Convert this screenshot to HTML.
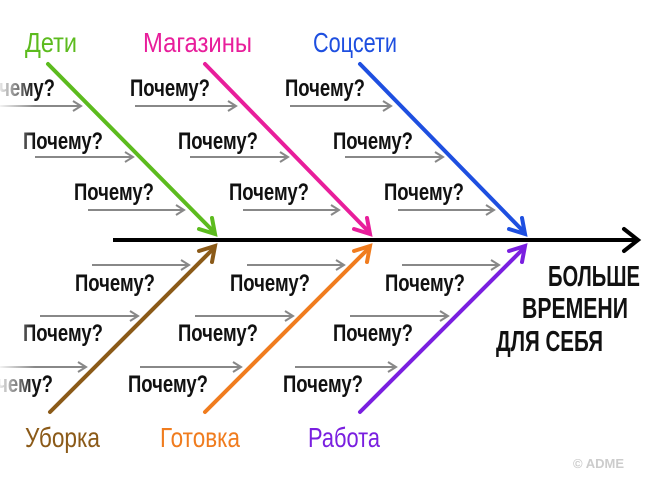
<!DOCTYPE html>
<html><head><meta charset="utf-8"><style>
html,body{margin:0;padding:0;background:#fff;width:650px;height:481px;overflow:hidden}
svg{display:block}
.q{font-family:"Liberation Sans",sans-serif;font-weight:bold;font-size:24px;fill:#111}
.l{font-family:"Liberation Sans",sans-serif;font-size:28px}
.r{font-family:"Liberation Sans",sans-serif;font-weight:bold;font-size:29px;fill:#111}
</style></head><body>
<svg width="650" height="481" viewBox="0 0 650 481" xmlns="http://www.w3.org/2000/svg">
<defs>
<linearGradient id="fade" x1="0" x2="1" y1="0" y2="0"><stop offset="0" stop-color="#fff" stop-opacity="0.9"/><stop offset="1" stop-color="#fff" stop-opacity="0"/></linearGradient>
<g id="grayTop">
 <line x1="-20" y1="106" x2="80" y2="106" stroke="#888" stroke-width="2"/><path d="M73,101 L81,106 L73,111" fill="none" stroke="#888" stroke-width="2"/>
 <line x1="35" y1="157" x2="132" y2="157" stroke="#888" stroke-width="2"/><path d="M125,152 L133,157 L125,162" fill="none" stroke="#888" stroke-width="2"/>
 <line x1="88" y1="210" x2="183" y2="210" stroke="#888" stroke-width="2"/><path d="M176,205 L184,210 L176,215" fill="none" stroke="#888" stroke-width="2"/>
 <text class="q" x="-25" y="96" textLength="80" lengthAdjust="spacingAndGlyphs">Почему?</text>
 <text class="q" x="23" y="149" textLength="80" lengthAdjust="spacingAndGlyphs">Почему?</text>
 <text class="q" x="74" y="200" textLength="80" lengthAdjust="spacingAndGlyphs">Почему?</text>
</g>
<g id="grayBot">
 <line x1="92" y1="265" x2="188" y2="265" stroke="#888" stroke-width="2"/><path d="M181,260 L189,265 L181,270" fill="none" stroke="#888" stroke-width="2"/>
 <line x1="40" y1="316" x2="137" y2="316" stroke="#888" stroke-width="2"/><path d="M130,311 L138,316 L130,321" fill="none" stroke="#888" stroke-width="2"/>
 <line x1="-15" y1="367" x2="85" y2="367" stroke="#888" stroke-width="2"/><path d="M78,362 L86,367 L78,372" fill="none" stroke="#888" stroke-width="2"/>
 <text class="q" x="75" y="291" textLength="80" lengthAdjust="spacingAndGlyphs">Почему?</text>
 <text class="q" x="23" y="341" textLength="80" lengthAdjust="spacingAndGlyphs">Почему?</text>
 <text class="q" x="-27" y="392" textLength="80" lengthAdjust="spacingAndGlyphs">Почему?</text>
</g>
</defs>
<use href="#grayTop"/><use href="#grayTop" x="155"/><use href="#grayTop" x="310"/>
<use href="#grayBot"/><use href="#grayBot" x="155"/><use href="#grayBot" x="310"/>
<rect x="0" y="60" width="35" height="350" fill="url(#fade)"/>
<line x1="113" y1="240" x2="636" y2="240" stroke="#000" stroke-width="4"/>
<path d="M624,229 L638,240 L624,251" fill="none" stroke="#000" stroke-width="4" stroke-linecap="round"/>
<g stroke-width="4" fill="none" stroke-linecap="round">
<line x1="48" y1="64" x2="214" y2="232" stroke="#5cbb1e"/><path d="M199,229 L215,234 L212,218" stroke="#5cbb1e"/>
<line x1="205" y1="64" x2="369" y2="232" stroke="#e81e9b"/><path d="M354,229 L370,234 L367,218" stroke="#e81e9b"/>
<line x1="360" y1="64" x2="524" y2="232" stroke="#1e4fe0"/><path d="M509,229 L525,234 L522,218" stroke="#1e4fe0"/>
<line x1="50" y1="412" x2="214" y2="248" stroke="#8b5a18"/><path d="M199,251 L215,246 L212,262" stroke="#8b5a18"/>
<line x1="205" y1="412" x2="369" y2="248" stroke="#f07c1e"/><path d="M354,251 L370,246 L367,262" stroke="#f07c1e"/>
<line x1="360" y1="412" x2="524" y2="248" stroke="#7a1fe0"/><path d="M509,251 L525,246 L522,262" stroke="#7a1fe0"/>
</g>
<text class="l" x="25" y="52" fill="#5cbb1e" textLength="52" lengthAdjust="spacingAndGlyphs">Дети</text>
<text class="l" x="143" y="52" fill="#e81e9b" textLength="109" lengthAdjust="spacingAndGlyphs">Магазины</text>
<text class="l" x="313" y="52" fill="#1e4fe0" textLength="84" lengthAdjust="spacingAndGlyphs">Соцсети</text>
<text class="l" x="25" y="447" fill="#8b5a18" textLength="75" lengthAdjust="spacingAndGlyphs">Уборка</text>
<text class="l" x="160" y="447" fill="#f07c1e" textLength="80" lengthAdjust="spacingAndGlyphs">Готовка</text>
<text class="l" x="308" y="447" fill="#7a1fe0" textLength="72" lengthAdjust="spacingAndGlyphs">Работа</text>
<text class="r" x="548" y="286" textLength="92" lengthAdjust="spacingAndGlyphs">БОЛЬШЕ</text>
<text class="r" x="522" y="318" textLength="106" lengthAdjust="spacingAndGlyphs">ВРЕМЕНИ</text>
<text class="r" x="496" y="351" textLength="107" lengthAdjust="spacingAndGlyphs">ДЛЯ СЕБЯ</text>
<text x="573" y="468" font-family="Liberation Sans,sans-serif" font-weight="bold" font-size="13" fill="#ccc">© ADME</text>
</svg>
</body></html>
